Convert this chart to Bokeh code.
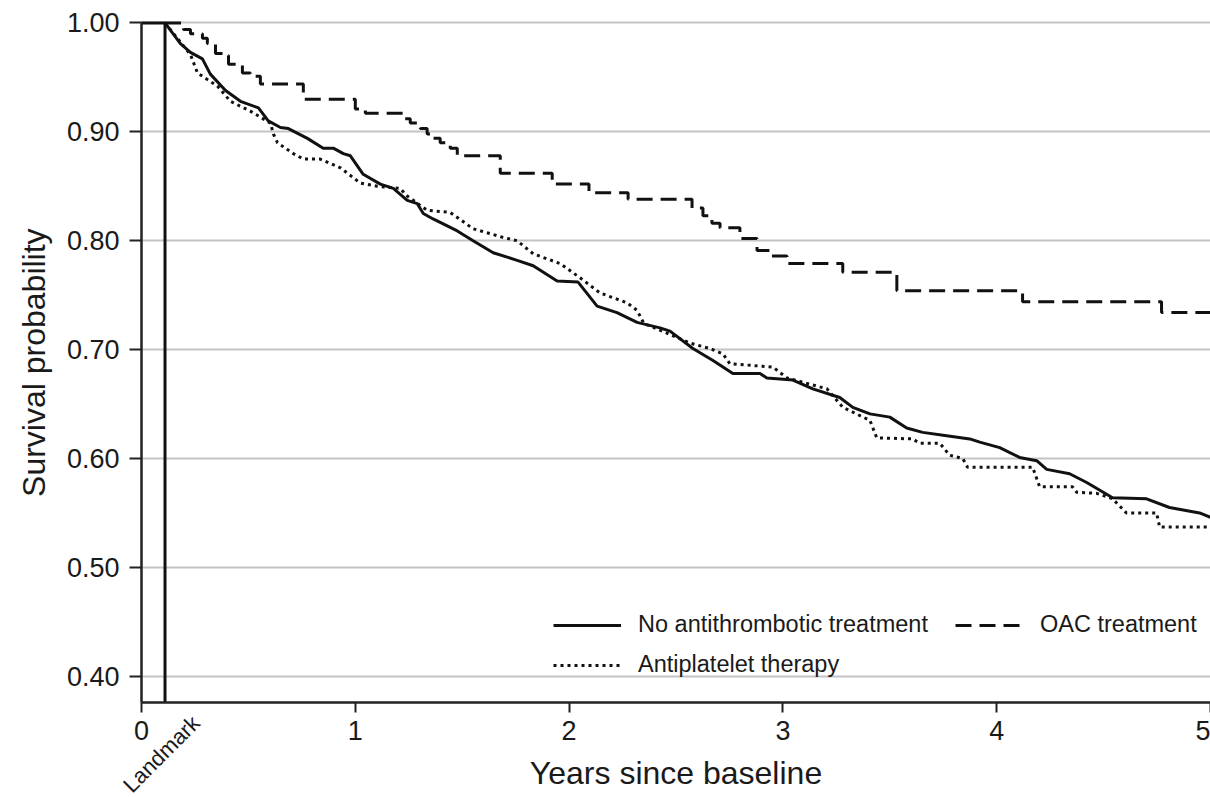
from bokeh.plotting import figure
from bokeh.models import Range1d, FixedTicker, Legend, LegendItem, Label, NumeralTickFormatter
from bokeh.embed import file_html
from bokeh.resources import INLINE

# ---------------- data ----------------
LANDMARK = 0.11
X_TICKS = [0, 1, 2, 3, 4, 5]
Y_TICKS = [0.40, 0.50, 0.60, 0.70, 0.80, 0.90, 1.00]
AXIS_X = 0.0              # where the y axis crosses
AXIS_Y = 0.376            # where the x axis crosses
X_END = 5.0
Y_TOP = 1.0
# the frame covers the whole canvas; the axes sit inside it at fixed locations
X_MIN, X_MAX = -0.6595, 5.0
Y_MIN, Y_MAX = 0.2887, 1.0206

# No antithrombotic treatment (solid)
no_at_t = [0.0, 0.11, 0.182, 0.229, 0.285, 0.322, 0.393, 0.463, 0.547, 0.593, 0.650, 0.687,
           0.776, 0.850, 0.897, 0.944, 0.977, 1.037, 1.117, 1.178, 1.243, 1.290, 1.318, 1.364,
           1.477, 1.551, 1.645, 1.757, 1.832, 1.944, 2.042, 2.131, 2.224, 2.318, 2.425, 2.472,
           2.579, 2.673, 2.766, 2.893, 2.925, 3.047, 3.140, 3.266, 3.327, 3.407, 3.500, 3.579,
           3.654, 3.766, 3.874, 3.921, 4.014, 4.107, 4.187, 4.234, 4.341, 4.421, 4.542, 4.701,
           4.808, 4.949, 5.0]
no_at_s = [1.0, 1.0, 0.981, 0.973, 0.967, 0.953, 0.938, 0.928, 0.922, 0.910, 0.904, 0.903,
           0.894, 0.885, 0.885, 0.880, 0.878, 0.861, 0.852, 0.848, 0.837, 0.834, 0.825, 0.820,
           0.809, 0.800, 0.789, 0.782, 0.777, 0.763, 0.762, 0.740, 0.734, 0.725, 0.720, 0.717,
           0.701, 0.690, 0.678, 0.678, 0.674, 0.672, 0.664, 0.656, 0.647, 0.641, 0.638, 0.628,
           0.624, 0.621, 0.618, 0.615, 0.610, 0.601, 0.598, 0.590, 0.586, 0.578, 0.564, 0.563,
           0.555, 0.550, 0.546]

# Antiplatelet therapy (dotted)
ap_t = [0.11, 0.229, 0.262, 0.355, 0.416, 0.509, 0.603, 0.617, 0.636, 0.710, 0.757, 0.836,
        0.930, 1.023, 1.103, 1.210, 1.243, 1.336, 1.444, 1.551, 1.692, 1.757, 1.832, 1.958,
        2.051, 2.145, 2.271, 2.318, 2.350, 2.411, 2.565, 2.659, 2.720, 2.752, 2.953, 3.019,
        3.206, 3.280, 3.407, 3.439, 3.607, 3.640, 3.734, 3.780, 3.841, 3.864, 4.168, 4.201,
        4.355, 4.374, 4.467, 4.542, 4.607, 4.748, 4.762, 5.0]
ap_s = [1.0, 0.971, 0.954, 0.942, 0.928, 0.919, 0.908, 0.898, 0.890, 0.880, 0.875, 0.875,
        0.867, 0.853, 0.850, 0.848, 0.841, 0.828, 0.826, 0.811, 0.803, 0.800, 0.788, 0.779,
        0.766, 0.752, 0.743, 0.736, 0.724, 0.719, 0.706, 0.701, 0.696, 0.687, 0.684, 0.674,
        0.664, 0.647, 0.635, 0.619, 0.618, 0.614, 0.614, 0.603, 0.600, 0.592, 0.592, 0.574,
        0.574, 0.569, 0.568, 0.563, 0.550, 0.550, 0.537, 0.537]

# OAC treatment (dashed, step function)
oac_t = [0.11, 0.196, 0.229, 0.285, 0.308, 0.346, 0.379, 0.407, 0.472, 0.509, 0.556, 0.757,
         1.000, 1.047, 1.224, 1.257, 1.304, 1.336, 1.360, 1.397, 1.444, 1.477, 1.678, 1.921,
         2.093, 2.276, 2.575, 2.626, 2.668, 2.706, 2.799, 2.879, 2.939, 3.019, 3.280, 3.533,
         4.121, 4.771, 5.0]
oac_s = [1.0, 0.994, 0.990, 0.986, 0.981, 0.972, 0.970, 0.962, 0.954, 0.951, 0.944, 0.930,
         0.921, 0.917, 0.912, 0.908, 0.903, 0.898, 0.894, 0.890, 0.885, 0.878, 0.862, 0.852,
         0.844, 0.838, 0.830, 0.823, 0.816, 0.812, 0.802, 0.791, 0.786, 0.779, 0.771, 0.754,
         0.744, 0.734, 0.734]

LABELS = ["No antithrombotic treatment", "OAC treatment", "Antiplatelet therapy"]
X_TITLE = "Years since baseline"
Y_TITLE = "Survival probability"
LANDMARK_TEXT = "Landmark"

assert len(no_at_t) == len(no_at_s)
assert len(ap_t) == len(ap_s)
assert len(oac_t) == len(oac_s)

# ---------------- styling ----------------
FONT = "Liberation Sans"
INK = "#1a1a1a"
LINE = "#111111"
GRID = "#c4c4c4"

p = figure(width=1210, height=797, output_backend="svg", toolbar_location=None,
           x_range=Range1d(X_MIN, X_MAX), y_range=Range1d(Y_MIN, Y_MAX),
           min_border_left=0, min_border_right=0, min_border_top=0, min_border_bottom=0)
p.outline_line_color = None
p.background_fill_color = "white"
p.border_fill_color = "white"

# grid (only horizontal lines, only over the data area)
p.xgrid.visible = False
p.ygrid.ticker = FixedTicker(ticks=Y_TICKS)
p.ygrid.grid_line_color = GRID
p.ygrid.grid_line_width = 2
try:
    p.ygrid[0].cross_bounds = (AXIS_X, X_END)
except Exception:
    p.ygrid.visible = False
    p.segment(x0=[AXIS_X] * len(Y_TICKS), y0=Y_TICKS, x1=[X_END] * len(Y_TICKS), y1=Y_TICKS,
              line_color=GRID, line_width=2)

# axes
for ax in (p.xaxis[0], p.yaxis[0]):
    ax.axis_line_color = "#222222"
    ax.axis_line_width = 2.5
    ax.major_tick_line_color = "#222222"
    ax.major_tick_line_width = 2
    ax.major_tick_in = 0
    ax.minor_tick_out = 0
    ax.minor_tick_in = 0
    ax.major_label_text_font = FONT
    ax.major_label_text_font_size = "27px"
    ax.major_label_text_color = INK

p.xaxis.fixed_location = AXIS_Y
p.xaxis.bounds = (AXIS_X, X_END)
p.xaxis.ticker = FixedTicker(ticks=X_TICKS)
p.xaxis.major_tick_out = 10
p.xaxis.major_label_standoff = 9

p.yaxis.fixed_location = AXIS_X
p.yaxis.bounds = (AXIS_Y, Y_TOP)
p.yaxis.ticker = FixedTicker(ticks=Y_TICKS)
p.yaxis.formatter = NumeralTickFormatter(format="0.00")
p.yaxis.major_tick_out = 12
p.yaxis.major_label_standoff = 10

# axis titles
p.add_layout(Label(x=(AXIS_X + X_END) / 2, y=AXIS_Y, text=X_TITLE, text_align="center",
                   text_baseline="middle", y_offset=-71, text_font=FONT,
                   text_font_size="32px", text_color=INK))
p.add_layout(Label(x=AXIS_X, y=(AXIS_Y + Y_TOP) / 2, text=Y_TITLE, angle=90, angle_units="deg",
                   text_align="center", text_baseline="middle", x_offset=-108,
                   text_font=FONT, text_font_size="32px", text_color=INK))

# landmark line + label
p.segment(x0=[LANDMARK], y0=[AXIS_Y], x1=[LANDMARK], y1=[Y_TOP], line_color=LINE, line_width=3)
p.add_layout(Label(x=LANDMARK, y=AXIS_Y, text=LANDMARK_TEXT, angle=45, angle_units="deg",
                   text_align="right", text_baseline="middle", x_offset=31, y_offset=-17,
                   text_font=FONT, text_font_size="22px", text_color=INK))

# curves
r_no = p.line(no_at_t, no_at_s, line_color=LINE, line_width=3)
r_ap = p.line(ap_t, ap_s, line_color=LINE, line_width=3, line_dash="3 4")
r_oac = p.step(oac_t, oac_s, mode="after", line_color=LINE, line_width=3, line_dash="16 8")


def make_legend(items, loc):
    lg = Legend(items=items, location=loc)
    lg.border_line_color = None
    lg.background_fill_alpha = 0
    lg.padding = 0
    lg.margin = 0
    lg.spacing = 13
    lg.glyph_width = 68
    lg.glyph_height = 24
    lg.label_height = 24
    lg.label_standoff = 17
    lg.label_text_font = FONT
    lg.label_text_font_size = "23.5px"
    lg.label_text_color = INK
    return lg


p.add_layout(make_legend([LegendItem(label=LABELS[0], renderers=[r_no]),
                          LegendItem(label=LABELS[2], renderers=[r_ap])], (553, 119)))
p.add_layout(make_legend([LegendItem(label=LABELS[1], renderers=[r_oac])], (955, 159)))

open("out.html", "w").write(file_html(p, INLINE))
